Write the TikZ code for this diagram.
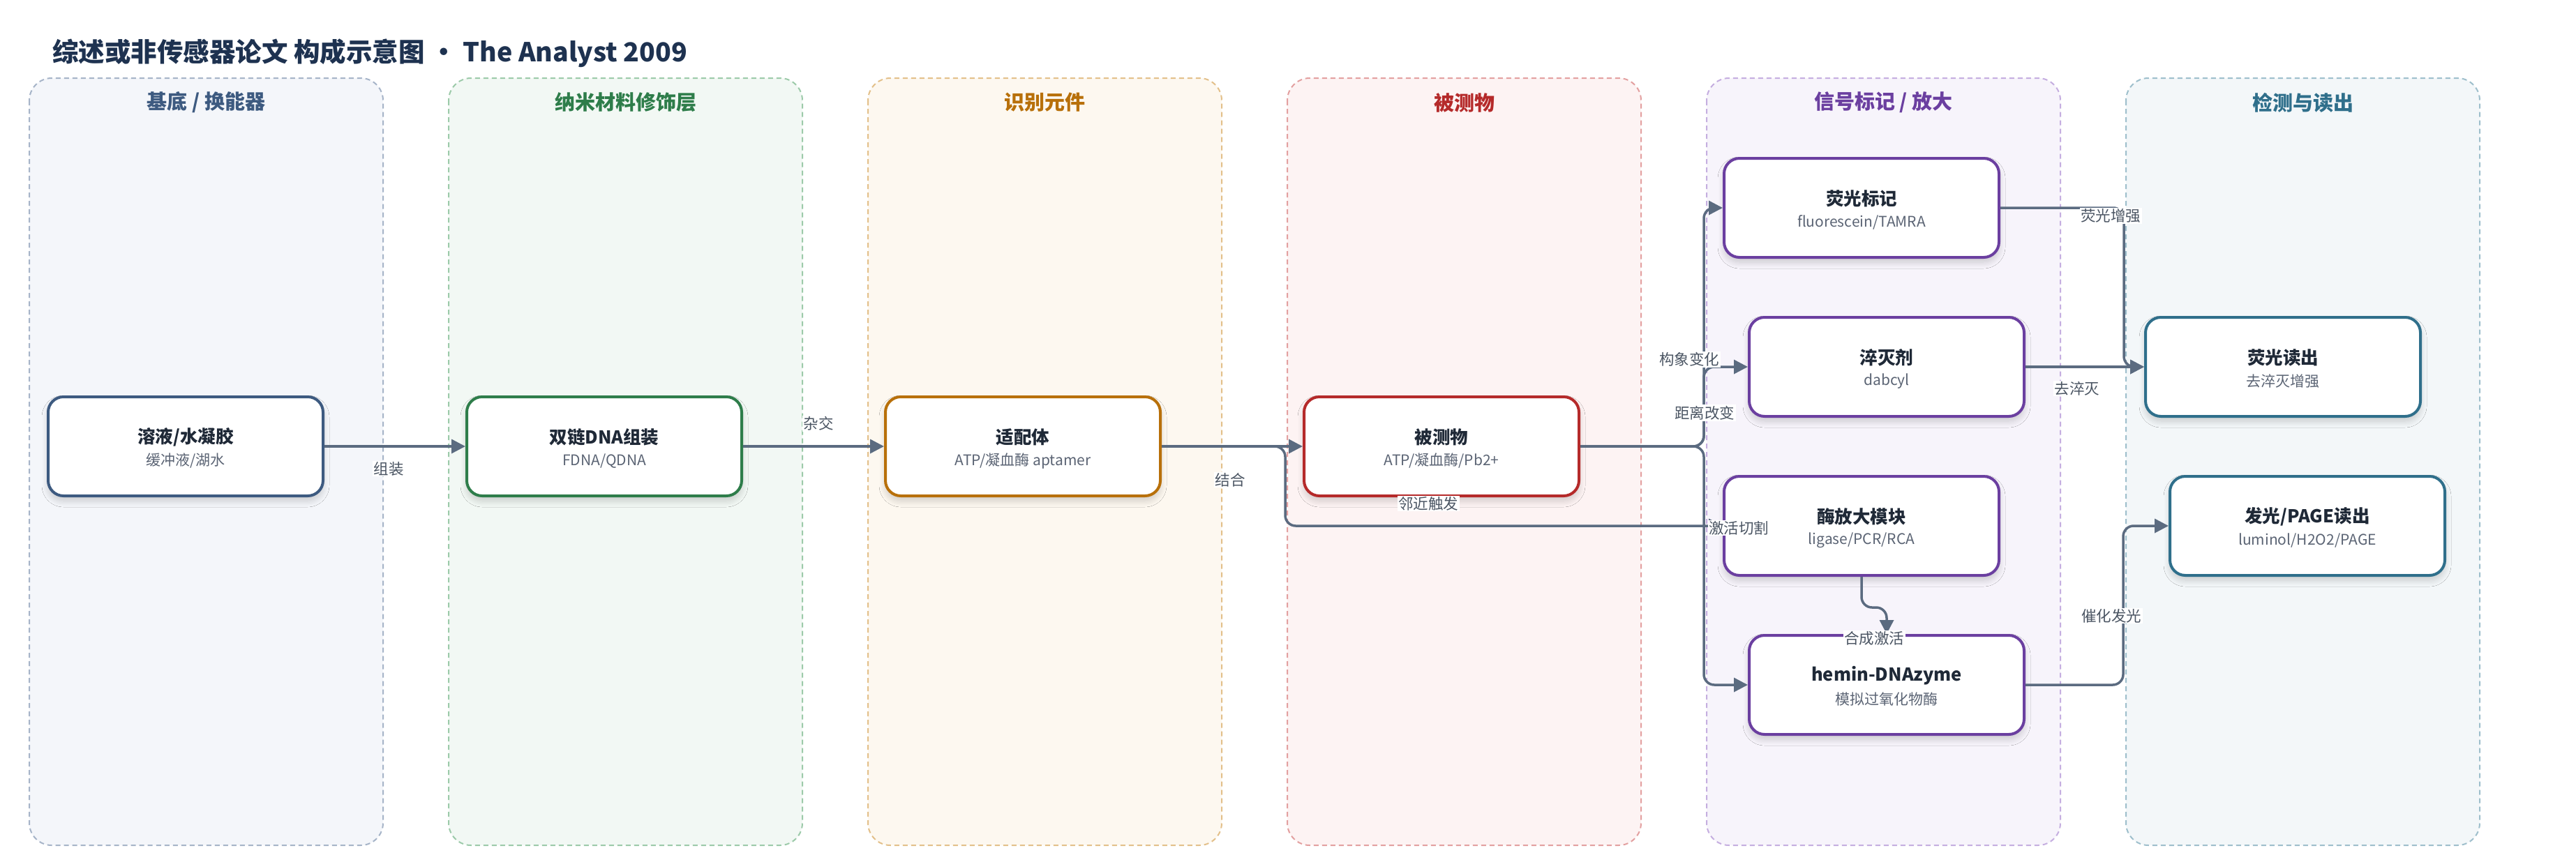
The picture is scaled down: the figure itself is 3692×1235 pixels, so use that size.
\documentclass[tikz,border=0pt]{standalone}
\usepackage{fontspec}
\setmainfont{Noto Sans CJK SC}
\usetikzlibrary{arrows.meta,calc,shadows.blur}
\definecolor{titlec}{HTML}{1E3250}
\definecolor{txt}{HTML}{1F2937}
\definecolor{subc}{HTML}{5B6474}
\definecolor{edgec}{HTML}{5B6B80}
\definecolor{labc}{HTML}{4B5563}
\definecolor{fA}{HTML}{F4F6FA}\definecolor{bA}{HTML}{A6B4C8}\definecolor{cA}{HTML}{3D5A80}
\definecolor{fB}{HTML}{F2F8F4}\definecolor{bB}{HTML}{9CCAA9}\definecolor{cB}{HTML}{2E7D4A}
\definecolor{fC}{HTML}{FDF8F0}\definecolor{bC}{HTML}{E3C08A}\definecolor{cC}{HTML}{B8700A}
\definecolor{fD}{HTML}{FDF3F3}\definecolor{bD}{HTML}{E3A0A0}\definecolor{cD}{HTML}{B52A2A}
\definecolor{fE}{HTML}{F7F4FB}\definecolor{bE}{HTML}{C5AEE0}\definecolor{cE}{HTML}{6B3FA0}
\definecolor{fF}{HTML}{F3F7F9}\definecolor{bF}{HTML}{9EBFCC}\definecolor{cF}{HTML}{2F6F8B}
\begin{document}
\begin{tikzpicture}[x=1pt,y=-1pt,
  lane/.style={line width=2pt, dash pattern=on 7pt off 5pt, rounded corners=32pt},
  lanehead/.style={font=\fontsize{29}{34}\selectfont\bfseries, inner sep=0pt},
  box/.style={draw, line width=4pt, fill=white, rounded corners=22pt,
    minimum width=394pt, minimum height=142pt, inner sep=0pt,
    blur shadow={shadow xshift=0pt, shadow yshift=-7pt, shadow blur radius=9pt, shadow opacity=18, shadow blur steps=8}},
  ttl/.style={font=\fontsize{25.5}{30}\selectfont\bfseries, text=txt, inner sep=0pt},
  sub/.style={font=\fontsize{21}{25}\selectfont, text=subc, inner sep=0pt},
  edge/.style={draw=edgec, line width=3.5pt, rounded corners=15pt, -{Triangle[length=20pt,width=20pt]}},
  elab/.style={font=\fontsize{21.5}{25}\selectfont, text=labc, fill=white, inner sep=1.5pt}
]
\useasboundingbox[fill=white] (0,0) rectangle (3692,1235);

% title
\node[anchor=west, inner sep=0pt, font=\fontsize{37.5}{45}\selectfont\bfseries, text=titlec] (title) at (75,76) {综述或非传感器论文 构成示意图 • The Analyst 2009};

% lanes
\foreach \k/\f/\b in {0/fA/bA,1/fB/bB,2/fC/bC,3/fD/bD,4/fE/bE,5/fF/bF}{
  \path[lane, fill=\f, draw=\b] ({42+601*\k},112) rectangle ({549+601*\k},1212);
}
\node[lanehead, text=cA] (h1) at (295.5,147) {基底 / 换能器};
\node[lanehead, text=cB] (h2) at (896.5,147) {纳米材料修饰层};
\node[lanehead, text=cC] (h3) at (1497.5,147) {识别元件};
\node[lanehead, text=cD] (h4) at (2098.5,147) {被测物};
\node[lanehead, text=cE] (h5) at (2699.5,147) {信号标记 / 放大};
\node[lanehead, text=cF] (h6) at (3300.5,147) {检测与读出};

% nodes
\node[box, draw=cA] (n1) at (266,640) {};
\node[box, draw=cB] (n2) at (866,640) {};
\node[box, draw=cC] (n3) at (1466,640) {};
\node[box, draw=cD] (n4) at (2066,640) {};
\node[box, draw=cE] (n5) at (2668,298) {};
\node[box, draw=cE] (n6) at (2704,526) {};
\node[box, draw=cE] (n7) at (2668,754) {};
\node[box, draw=cE] (n8) at (2704,982) {};
\node[box, draw=cF] (n9) at (3272,526) {};
\node[box, draw=cF] (n10) at (3307,754) {};

\node[ttl] (n1t) at ($(n1)+(0,-13)$) {溶液/水凝胶};
\node[sub] (n1s) at ($(n1)+(0,21)$) {缓冲液/湖水};
\node[ttl] (n2t) at ($(n2)+(0,-13)$) {双链DNA组装};
\node[sub] (n2s) at ($(n2)+(0,21)$) {FDNA/QDNA};
\node[ttl] (n3t) at ($(n3)+(0,-13)$) {适配体};
\node[sub] (n3s) at ($(n3)+(0,21)$) {ATP/凝血酶 aptamer};
\node[ttl] (n4t) at ($(n4)+(0,-13)$) {被测物};
\node[sub] (n4s) at ($(n4)+(0,21)$) {ATP/凝血酶/Pb2+};
\node[ttl] (n5t) at ($(n5)+(0,-13)$) {荧光标记};
\node[sub] (n5s) at ($(n5)+(0,21)$) {fluorescein/TAMRA};
\node[ttl] (n6t) at ($(n6)+(0,-13)$) {淬灭剂};
\node[sub] (n6s) at ($(n6)+(0,21)$) {dabcyl};
\node[ttl] (n7t) at ($(n7)+(0,-13)$) {酶放大模块};
\node[sub] (n7s) at ($(n7)+(0,21)$) {ligase/PCR/RCA};
\node[ttl] (n8t) at ($(n8)+(0,-13)$) {hemin-DNAzyme};
\node[sub] (n8s) at ($(n8)+(0,21)$) {模拟过氧化物酶};
\node[ttl] (n9t) at ($(n9)+(0,-13)$) {荧光读出};
\node[sub] (n9s) at ($(n9)+(0,21)$) {去淬灭增强};
\node[ttl] (n10t) at ($(n10)+(0,-13)$) {发光/PAGE读出};
\node[sub] (n10s) at ($(n10)+(0,21)$) {luminol/H2O2/PAGE};

% connectors
\coordinate (b4) at (1842,640);
\coordinate (trunk) at (2442,640);
\draw[edge] (n1.east) -- (n2.west);
\draw[edge] (n2.east) -- (n3.west);
\draw[edge] (n3.east) -- (n4.west);
\draw[edge] (n3.east) -- (b4) |- (n7.west);
\draw[edge] (n4.east) -- (trunk) |- (n5.west);
\draw[edge] (n4.east) -- (trunk) |- (n6.west);
\draw[edge] (n4.east) -- (trunk) |- (n8.west);
\draw[edge] (n5.east) -| ($(n9.west)+(-29,0)$) -- (n9.west);
\draw[edge] (n6.east) -- (n9.west);
\draw[edge] (n7.south) -- ++(0,44) -| (n8.north);
\draw[edge] (n8.east) -| ($(n10.west)+(-65,0)$) -- (n10.west);

% connector labels
\node[elab] (l1) at (557,672) {组装};
\node[elab] (l2) at (1173,607) {杂交};
\node[elab] (l3) at (1763,688) {结合};
\node[elab] (l4) at (2047,722) {邻近触发};
\node[elab] (l5) at (2492,757) {激活切割};
\node[elab] (l6) at (2421,515) {构象变化};
\node[elab] (l7) at (2443,592) {距离改变};
\node[elab] (l8) at (3025,309) {荧光增强};
\node[elab] (l9) at (2977,557) {去淬灭};
\node[elab] (l10) at (2686,915) {合成激活};
\node[elab] (l11) at (3026,883) {催化发光};
\end{tikzpicture}
\end{document}
